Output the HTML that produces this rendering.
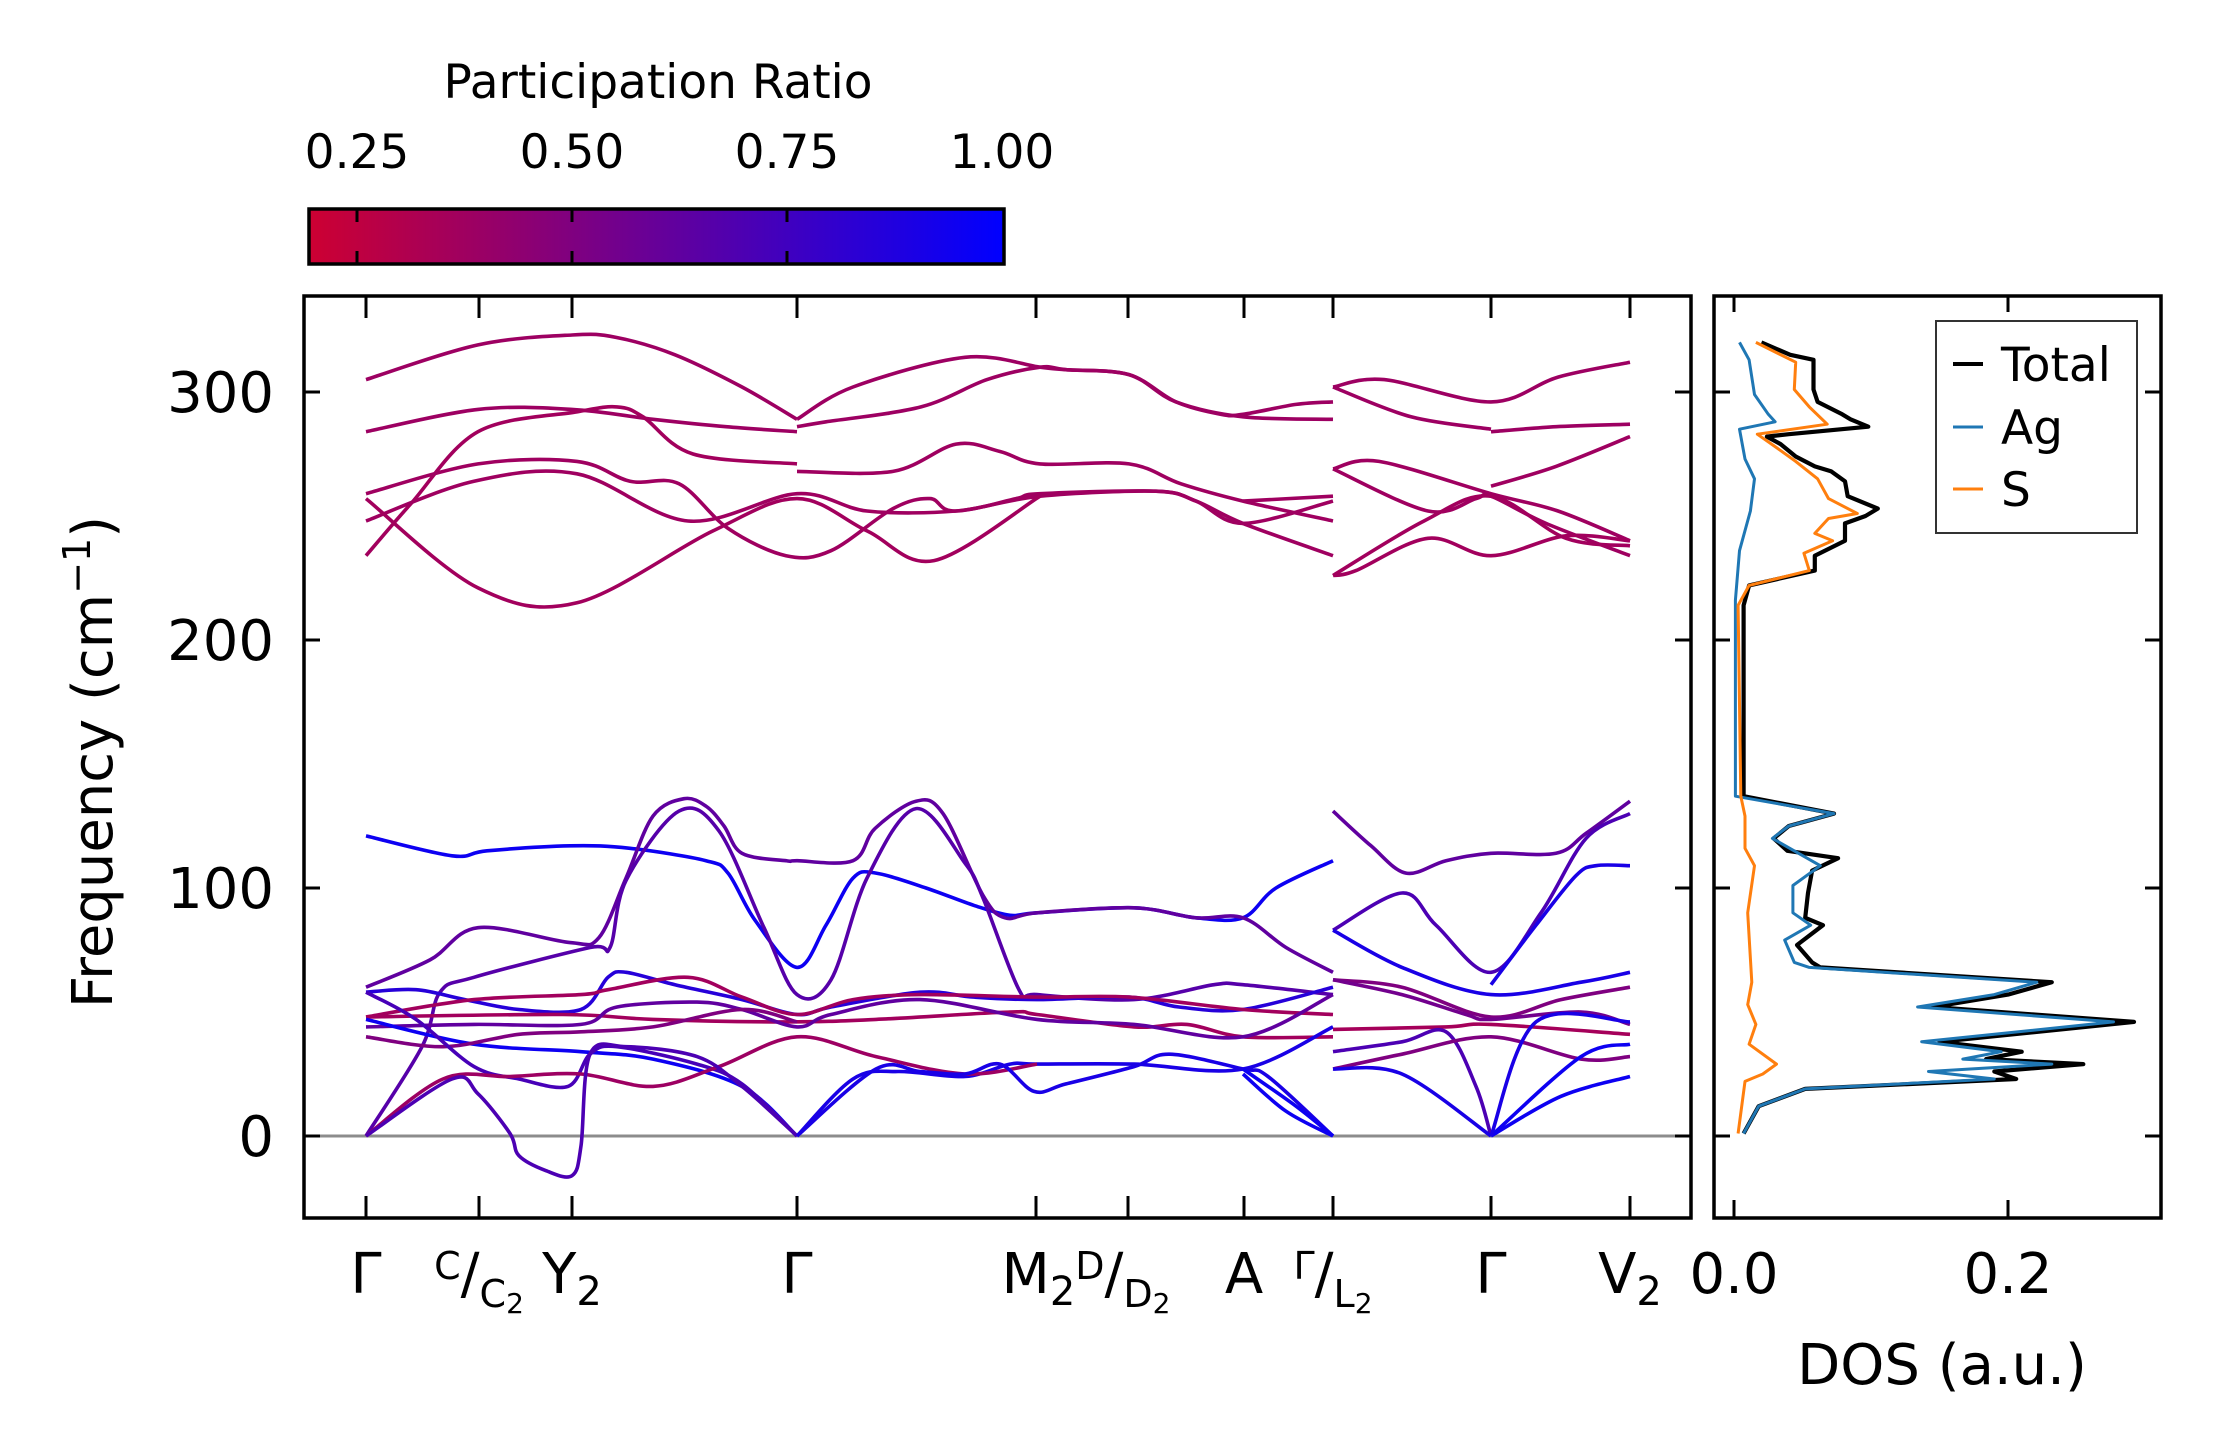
<!DOCTYPE html>
<html><head><meta charset="utf-8">
<style>
html,body{margin:0;padding:0;background:#fff;}
svg{display:block;font-family:"DejaVu Sans","Liberation Sans",sans-serif;}
</style></head>
<body>
<svg id="chart" width="2222" height="1455" viewBox="0 0 2222 1455" xmlns="http://www.w3.org/2000/svg">
  <defs>
    <clipPath id="mainClip"><rect x="304" y="296" width="1387" height="920"/></clipPath>
    <clipPath id="dosClip"><rect x="1714" y="296" width="447" height="920"/></clipPath>
    <linearGradient id="cbGrad" x1="0" x2="1" y1="0" y2="0">
      <stop offset="0" stop-color="rgb(205,0,50)"/>
      <stop offset="1" stop-color="rgb(0,0,255)"/>
    </linearGradient>
  </defs>
  <rect x="0" y="0" width="2222" height="1455" fill="#fff"/>
  <!-- colorbar -->
  <g>
    <text x="658" y="98" font-size="47" text-anchor="middle">Participation Ratio</text>
    <rect x="309" y="209" width="695" height="55" fill="url(#cbGrad)" stroke="#000" stroke-width="3.5"/>
    <g id="cbTicks"></g>
  </g>
  <g id="mainPlot">
    <line x1="304" x2="1691" y1="1136" y2="1136" stroke="#8c8c8c" stroke-width="3"/>
    <g id="bands" clip-path="url(#mainClip)"></g>
    <rect x="304" y="296" width="1387" height="922" fill="none" stroke="#000" stroke-width="3.5"/>
    <g id="mainTicks"></g>
  </g>
  <g id="dosPlot">
    <g id="dosLines" clip-path="url(#dosClip)"></g>
    <rect x="1714" y="296" width="447" height="922" fill="none" stroke="#000" stroke-width="3.5"/>
    <g id="dosTicks"></g>
    <g>
      <rect x="1936" y="321" width="201" height="212" fill="#fff" stroke="#333" stroke-width="2"/>
      <line x1="1953" x2="1983" y1="364" y2="364" stroke="#000" stroke-width="4"/>
      <text x="2001" y="381" font-size="47">Total</text>
      <line x1="1953" x2="1983" y1="427" y2="427" stroke="#1f77b4" stroke-width="3"/>
      <text x="2001" y="444" font-size="47">Ag</text>
      <line x1="1953" x2="1983" y1="489" y2="489" stroke="#ff7f0e" stroke-width="3"/>
      <text x="2001" y="506" font-size="47">S</text>
    </g>
  </g>
  <text transform="translate(112,762) rotate(-90)" font-size="56" text-anchor="middle">Frequency (cm<tspan font-size="38" dy="-22">−1</tspan><tspan dy="22">)</tspan></text>
  <text x="1942" y="1384" font-size="56" text-anchor="middle">DOS (a.u.)</text>
  <g id="kLabels" font-size="56"></g>
</svg>
<script>
// ---------- data ----------
const cbTickValues = [0.25, 0.50, 0.75, 1.00];
const cbTickLabels = ["0.25", "0.50", "0.75", "1.00"];
const freqTicks = [0, 100, 200, 300];
const freqTickLabels = ["0", "100", "200", "300"];
const kTicks = [0, 113, 206, 431, 670, 762, 878, 967, 1125, 1264];
const dosTicks = [0.0, 0.2];
const dosTickLabels = ["0.0", "0.2"];

// bands: [k, freq] points, p = participation ratio
const bandsSeg = [
  {p:0.95, pts:[[0,121],[86,113],[121,115],[204,117],[264,116],[340,111],[362,106],[389,87],[431,68],[460,85],[487,104],[510,106],[560,100],[608,93],[644,89],[671,90],[768,92],[830,88],[877,88],[910,100],[967,111]]},
  {p:0.62, pts:[[0,60],[64,71],[112,84],[204,78],[233,80],[260,104],[287,129],[318,136],[340,133],[358,125],[376,114],[420,111],[431,111],[487,111],[509,124],[550,135],[577,130],[617,97],[639,88],[671,90],[768,92],[830,88],[877,88],[920,76],[967,66]]},
  {p:0.66, pts:[[0,0],[56,36],[74,58],[108,64],[224,76],[244,76],[260,103],[313,131],[353,123],[398,84],[431,57],[465,63],[501,104],[550,132],[599,110],[617,96],[653,59],[671,57],[768,55],[848,61],[877,61],[967,57]]},
  {p:0.85, pts:[[0,58],[50,59],[99,55],[153,51],[215,51],[242,64],[260,66],[309,61],[376,55],[431,49],[465,52],[554,58],[608,56],[671,55],[763,56],[813,52],[877,51],[967,60]]},
  {p:0.36, pts:[[0,48],[108,55],[215,57],[242,59],[322,64],[376,56],[431,49],[487,55],[554,57],[671,56],[763,56],[877,51],[967,49]]},
  {p:0.36, pts:[[0,48],[197,49],[287,47],[420,46],[510,47],[644,50],[671,49],[768,44],[821,45],[877,40],[967,40]]},
  {p:0.62, pts:[[0,44],[108,45],[215,45],[251,52],[331,54],[376,51],[431,44],[465,49],[554,55],[671,47],[768,45],[877,40],[967,57]]},
  {p:0.95, pts:[[0,47],[108,37],[215,34],[287,31],[376,20],[431,0]]},
  {p:0.9, pts:[[431,0],[487,23],[532,26],[599,24],[644,29],[671,29],[768,29],[877,27],[967,44]]},
  {p:0.5, pts:[[0,40],[77,36],[153,41],[215,42],[287,44],[376,51],[431,46]]},
  {p:0.72, pts:[[0,58],[50,47],[108,28],[153,23],[202,20],[224,33],[251,36],[331,29],[376,21],[431,0]]},
  {p:0.38, pts:[[0,0],[77,23],[144,24],[215,25],[287,20],[353,28],[431,40],[510,32],[599,25],[671,29]]},
  {p:0.7, pts:[[0,0],[86,23],[112,17],[144,1],[153,-8],[180,-14],[206,-16],[215,-4],[224,33],[260,36],[331,32],[376,20],[431,0]]},
  {p:0.9, pts:[[431,0],[510,27],[554,26],[599,25],[634,29],[668,18],[700,21],[768,28],[804,33],[877,27],[902,24],[967,0]]},
  {p:0.95, pts:[[877,27],[930,12],[967,0]]},
  {p:0.95, pts:[[877,25],[920,10],[967,0]]},
  {p:0.62, pts:[[967,131],[1005,117],[1040,106],[1080,111],[1125,114],[1190,114],[1220,122],[1264,135]]},
  {p:0.7, pts:[[967,83],[1036,98],[1070,85],[1125,66],[1175,90],[1220,120],[1264,130]]},
  {p:0.9, pts:[[967,83],[1036,68],[1125,57],[1215,62],[1264,66]]},
  {p:0.9, pts:[[1125,61],[1170,85],[1210,105],[1230,109],[1264,109]]},
  {p:0.5, pts:[[967,63],[1036,60],[1125,48],[1195,55],[1264,60]]},
  {p:0.55, pts:[[967,63],[1036,57],[1100,49],[1125,47],[1215,50],[1264,45]]},
  {p:0.35, pts:[[967,43],[1080,44],[1125,45],[1264,41]]},
  {p:0.7, pts:[[967,34],[1036,38],[1080,42],[1110,20],[1125,0]]},
  {p:0.5, pts:[[967,27],[1036,33],[1125,40],[1215,31],[1264,32]]},
  {p:0.9, pts:[[967,27],[1036,25],[1125,0]]},
  {p:0.95, pts:[[1125,0],[1215,32],[1264,37]]},
  {p:0.95, pts:[[1125,0],[1195,16],[1264,24]]},
  {p:0.9, pts:[[1125,0],[1170,46],[1264,46]]},
  // optical high-frequency bands
  {p:0.38, pts:[[0,305],[112,319],[206,323],[250,322],[309,315],[376,302],[431,289]]},
  {p:0.38, pts:[[431,289],[487,302],[599,314],[674,310],[700,309],[763,307],[810,296],[855,291],[877,291],[930,295],[967,296]]},
  {p:0.38, pts:[[0,284],[112,293],[206,293],[287,289],[360,286],[431,284]]},
  {p:0.38, pts:[[431,286],[460,288],[555,294],[621,305],[674,310],[700,309],[763,307],[810,296],[877,290],[967,289]]},
  {p:0.36, pts:[[0,234],[45,255],[112,284],[211,292],[251,294],[277,290],[327,275],[431,271]]},
  {p:0.37, pts:[[431,268],[527,268],[590,279],[634,276],[674,271],[763,271],[815,263],[877,256],[967,248]]},
  {p:0.37, pts:[[877,256],[967,258]]},
  {p:0.37, pts:[[0,259],[112,271],[211,272],[264,264],[313,263],[362,245],[420,234],[465,236],[527,253],[564,257],[590,252],[674,258],[790,260],[830,256],[877,247],[967,234]]},
  {p:0.37, pts:[[0,248],[108,264],[211,267],[322,248],[431,259],[501,252],[590,252],[650,257],[674,259],[790,260],[830,256],[877,247],[967,256]]},
  {p:0.36, pts:[[0,257],[112,221],[211,215],[347,244],[431,257],[501,244],[568,232],[674,258]]},
  {p:0.38, pts:[[967,302],[1018,305],[1125,296],[1192,306],[1264,312]]},
  {p:0.38, pts:[[967,302],[1045,290],[1125,285]]},
  {p:0.38, pts:[[1125,284],[1190,286],[1264,287]]},
  {p:0.37, pts:[[967,269],[1013,272],[1125,259],[1192,252],[1264,240]]},
  {p:0.37, pts:[[967,269],[1062,252],[1110,257],[1125,258],[1180,247],[1264,234]]},
  {p:0.37, pts:[[1125,262],[1190,270],[1264,282]]},
  {p:0.36, pts:[[967,226],[1058,248],[1125,258],[1200,241],[1264,238]]},
  {p:0.36, pts:[[967,226],[990,228],[1062,241],[1125,234],[1200,242],[1264,240]]}
];

// DOS: [frequency, value]
const dosTotal = [[320,0.020],[315,0.041],[313,0.058],[301,0.058],[296,0.061],[291,0.079],[289,0.085],[286,0.098],[283,0.040],[282,0.024],[279,0.034],[274,0.045],[270,0.059],[268,0.071],[264,0.081],[258,0.083],[253,0.105],[250,0.096],[247,0.081],[240,0.081],[234,0.059],[228,0.059],[222,0.011],[214,0.007],[137,0.007],[130,0.073],[125,0.040],[120,0.029],[115,0.039],[112,0.076],[107,0.057],[98,0.054],[88,0.052],[85,0.065],[77,0.046],[70,0.057],[68,0.063],[62,0.232],[57,0.200],[52,0.145],[46,0.292],[38,0.150],[34,0.210],[31,0.184],[29,0.255],[26,0.190],[23,0.206],[19,0.052],[12,0.018],[1,0.007]];
const dosAg = [[320,0.004],[313,0.011],[299,0.015],[291,0.025],[288,0.030],[285,0.004],[273,0.008],[265,0.015],[252,0.012],[236,0.004],[216,0.001],[137,0.001],[130,0.073],[125,0.040],[120,0.028],[109,0.063],[101,0.043],[90,0.043],[85,0.056],[79,0.037],[70,0.044],[68,0.055],[62,0.221],[57,0.190],[52,0.134],[46,0.277],[38,0.137],[34,0.195],[31,0.167],[29,0.232],[26,0.142],[23,0.190],[19,0.052],[12,0.018],[1,0.007]];
const dosS = [[320,0.016],[312,0.045],[301,0.044],[294,0.055],[287,0.068],[283,0.017],[278,0.030],[272,0.045],[265,0.061],[257,0.069],[251,0.090],[249,0.069],[243,0.059],[240,0.072],[235,0.051],[228,0.055],[222,0.011],[214,0.003],[137,0.005],[129,0.008],[116,0.008],[109,0.015],[90,0.010],[62,0.013],[53,0.010],[45,0.016],[37,0.011],[29,0.031],[25,0.021],[22,0.008],[1,0.003]];

// ---------- scales ----------
const yF = f => 1136 - 2.48 * f;
const xK = k => 366 + k;
const xD = v => 1734 + 1370 * v;
const xCb = p => 357 + (p - 0.25) * 860;
function cmap(p){
  const t = Math.max(0, Math.min(1, (p - 0.19) / 0.81));
  return `rgb(${Math.round(205*(1-t))},0,${Math.round(50+205*t)})`;
}
function smoothPath(P){
  if (P.length < 3) return 'M' + P.map(q => q[0].toFixed(1)+','+q[1].toFixed(1)).join('L');
  let d = 'M' + P[0][0].toFixed(1) + ',' + P[0][1].toFixed(1);
  for (let i = 0; i < P.length - 1; i++){
    const p0 = P[Math.max(0,i-1)], p1 = P[i], p2 = P[i+1], p3 = P[Math.min(P.length-1,i+2)];
    const c1 = [p1[0] + (p2[0]-p0[0])/6, p1[1] + (p2[1]-p0[1])/6];
    const c2 = [p2[0] - (p3[0]-p1[0])/6, p2[1] - (p3[1]-p1[1])/6];
    d += `C${c1[0].toFixed(1)},${c1[1].toFixed(1)} ${c2[0].toFixed(1)},${c2[1].toFixed(1)} ${p2[0].toFixed(1)},${p2[1].toFixed(1)}`;
  }
  return d;
}
const NS = 'http://www.w3.org/2000/svg';
function mk(tag, attrs, parent){
  const e = document.createElementNS(NS, tag);
  for (const a in attrs) e.setAttribute(a, attrs[a]);
  parent.appendChild(e);
  return e;
}

// colorbar ticks
const cbG = document.getElementById('cbTicks');
cbTickValues.forEach((v, i) => {
  const x = xCb(v);
  if (v < 1) {
    const t1 = mk('line', {x1:x, x2:x, y1:209, y2:222, stroke:'#000', 'stroke-width':3}, cbG);
    
    
    const t2 = mk('line', {x1:x, x2:x, y1:251, y2:264, stroke:'#000', 'stroke-width':3}, cbG);
    
    
  }
  const tx = mk('text', {x:x, y:168, 'font-size':47, 'text-anchor':'middle'}, cbG);
  
  
  tx.textContent = cbTickLabels[i];
});

// bands
const bandG = document.getElementById('bands');
bandsSeg.forEach(b => {
  const P = b.pts.map(q => [xK(q[0]), yF(q[1])]);
  const path = mk('path', {d: smoothPath(P), fill:'none', stroke: cmap(b.p), 'stroke-width':3.6, 'stroke-linecap':'butt'}, bandG);
  
  
});

// main ticks
const mt = document.getElementById('mainTicks');
freqTicks.forEach((f, i) => {
  const y = yF(f);
  const a = mk('line', {x1:304, x2:320, y1:y, y2:y, stroke:'#000', 'stroke-width':3}, mt);
  
  
  const b = mk('line', {x1:1675, x2:1691, y1:y, y2:y, stroke:'#000', 'stroke-width':3}, mt);
  
  
  const t = mk('text', {x:274, y:y+20, 'font-size':56, 'text-anchor':'end'}, mt);
  
  
  t.textContent = freqTickLabels[i];
  const c = mk('line', {x1:1714, x2:1730, y1:y, y2:y, stroke:'#000', 'stroke-width':3}, mt);
  
  
  const d = mk('line', {x1:2145, x2:2161, y1:y, y2:y, stroke:'#000', 'stroke-width':3}, mt);
  
  
});
kTicks.forEach(k => {
  const x = xK(k);
  const a = mk('line', {x1:x, x2:x, y1:296, y2:318, stroke:'#000', 'stroke-width':3}, mt);
  
  
  const b = mk('line', {x1:x, x2:x, y1:1196, y2:1218, stroke:'#000', 'stroke-width':3}, mt);
  
  
});

// k labels
const kl = document.getElementById('kLabels');
const kLabelDefs = [
  [0, '<tspan>Γ</tspan>'],
  [113, '<tspan font-size="38" dy="-14">C</tspan><tspan dy="14">/</tspan><tspan font-size="38" dy="14">C</tspan><tspan font-size="28" dy="6">2</tspan>'],
  [206, '<tspan>Y</tspan><tspan font-size="40" dy="12">2</tspan>'],
  [431, '<tspan>Γ</tspan>'],
  [720, '<tspan>M</tspan><tspan font-size="40" dy="12">2</tspan><tspan font-size="38" dy="-26">D</tspan><tspan dy="14">/</tspan><tspan font-size="38" dy="14">D</tspan><tspan font-size="28" dy="6">2</tspan>'],
  [878, '<tspan>A</tspan>'],
  [967, '<tspan font-size="38" dy="-14">Γ</tspan><tspan dy="14">/</tspan><tspan font-size="38" dy="14">L</tspan><tspan font-size="28" dy="6">2</tspan>'],
  [1125, '<tspan>Γ</tspan>'],
  [1264, '<tspan>V</tspan><tspan font-size="40" dy="12">2</tspan>']
];
kLabelDefs.forEach(d => {
  const t = mk('text', {x:xK(d[0]), y:1293, 'text-anchor':'middle'}, kl);
  
  
  t.innerHTML = d[1];
});

// DOS
const dl = document.getElementById('dosLines');
[[dosTotal,'#000',4.2,'dos-total-line'],[dosAg,'#1f77b4',3,'dos-ag-line'],[dosS,'#ff7f0e',3,'dos-s-line']].forEach(s => {
  const d = 'M' + s[0].map(q => xD(q[1]).toFixed(1)+','+yF(q[0]).toFixed(1)).join('L');
  const p = mk('path', {d:d, fill:'none', stroke:s[1], 'stroke-width':s[2], 'stroke-linejoin':'round'}, dl);
  
  
});
const dt = document.getElementById('dosTicks');
dosTicks.forEach((v, i) => {
  const x = xD(v);
  const a = mk('line', {x1:x, x2:x, y1:296, y2:312, stroke:'#000', 'stroke-width':3}, dt);
  
  
  const b = mk('line', {x1:x, x2:x, y1:1200, y2:1218, stroke:'#000', 'stroke-width':3}, dt);
  
  
  const t = mk('text', {x:x, y:1293, 'font-size':56, 'text-anchor':'middle'}, dt);
  
  
  t.textContent = dosTickLabels[i];
});
</script>
</body></html>
